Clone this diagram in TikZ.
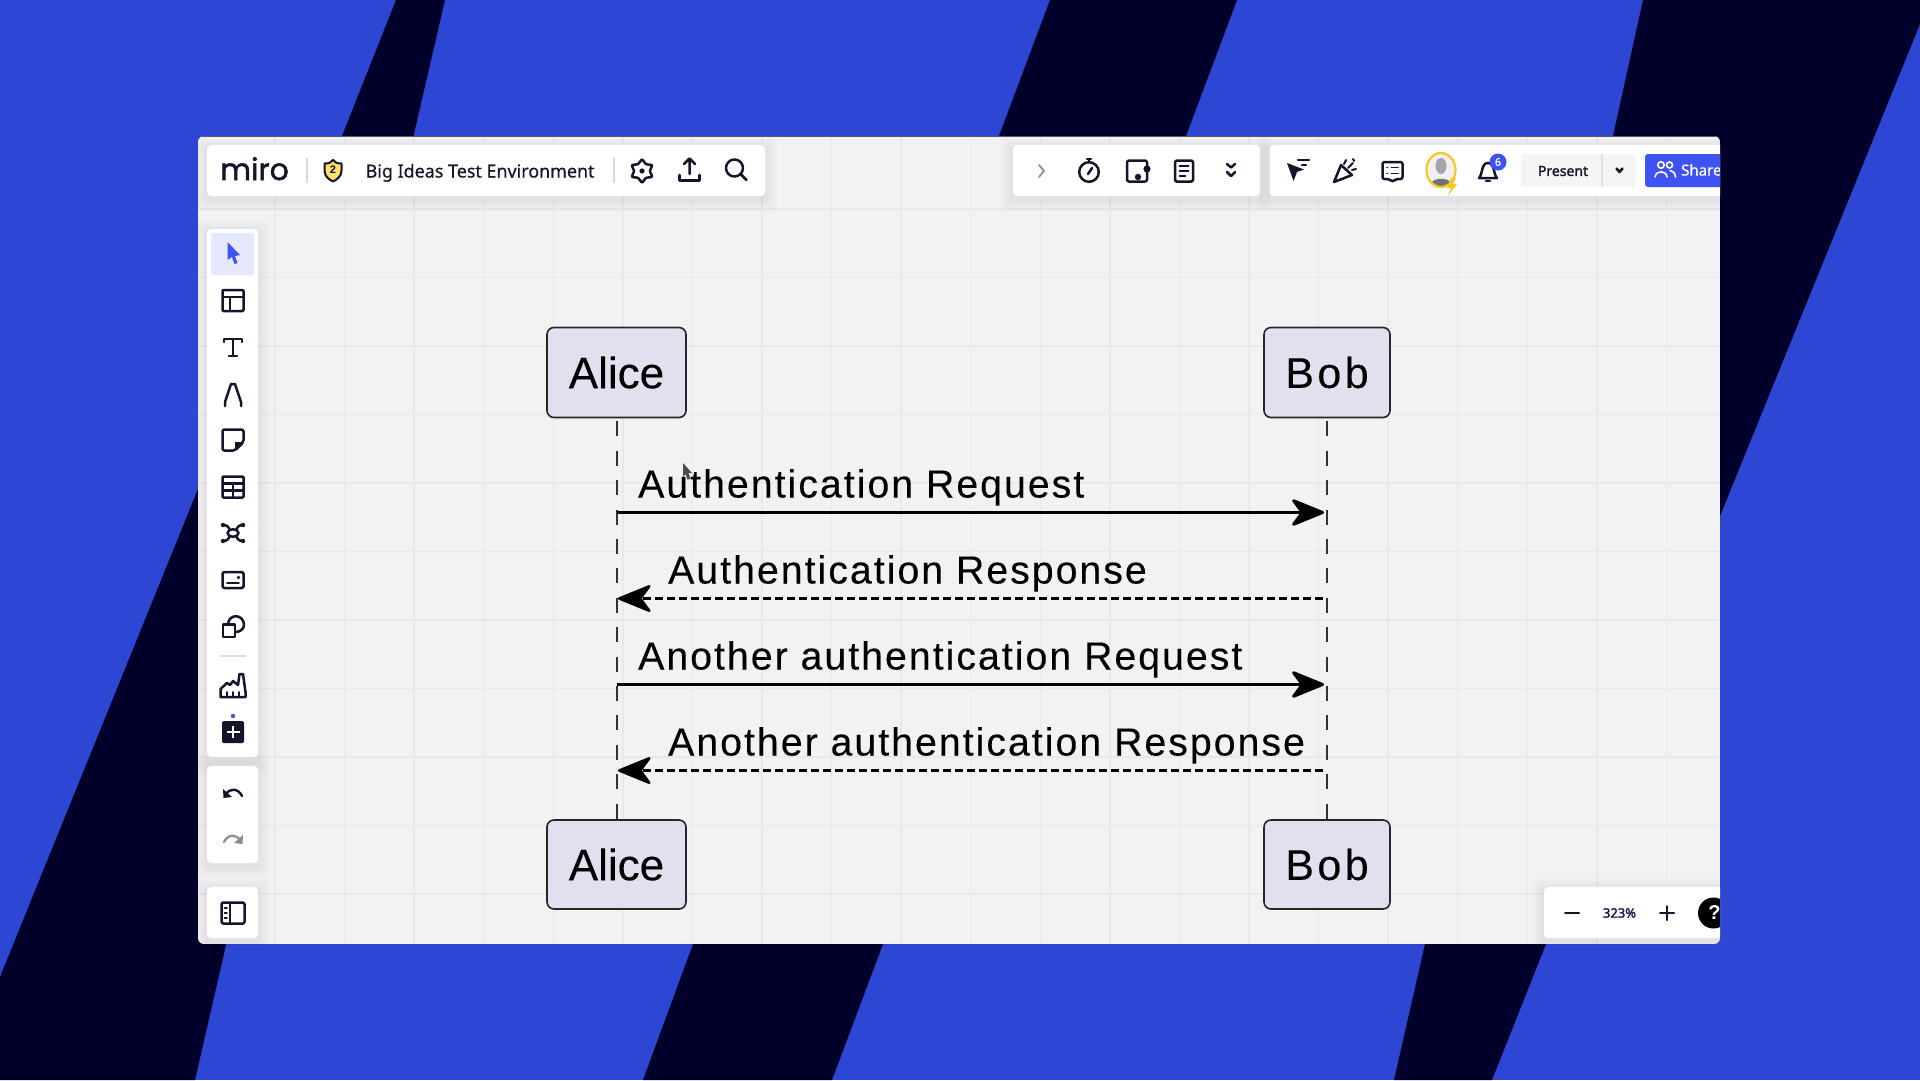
\documentclass[tikz,border=0pt]{standalone}
\usepackage{fontspec}
\usetikzlibrary{arrows.meta,positioning}
\setmainfont{Liberation Sans}
\newfontfamily\actorfont[FakeBold=0.2]{Liberation Sans}
\newfontfamily\labelfont[LetterSpace=5.2,FakeBold=0.2]{Liberation Sans}
\newfontfamily\bobfont[LetterSpace=8,FakeBold=0.2]{Liberation Sans}
\newfontfamily\uifont[FakeBold=0.4]{Noto Sans}
\newfontfamily\uistrong[FakeBold=1.6]{Noto Sans}
\newfontfamily\logofont[FakeBold=1.7]{Poppins}
\definecolor{bgblue}{HTML}{2D47D4}
\definecolor{bgdark}{HTML}{00002B}
\definecolor{canvas}{HTML}{F2F2F5}
\definecolor{gridc}{HTML}{E9E9E9}
\definecolor{actor}{HTML}{E0E0EE}
\definecolor{ink}{HTML}{14142B}
\definecolor{mirob}{HTML}{3F53F5}
\definecolor{paleb}{HTML}{E6E9FE}
\definecolor{ringy}{HTML}{F5C82A}
\newcommand{\softpanel}[5]{%
  \foreach \e/\o in {12/.012,9/.014,6/.016,3/.02}{%
    \fill[black,opacity=\o,rounded corners=#5pt] (#1-\e,#2-\e+3) rectangle (#3+\e,#4+\e+3);}
  \fill[white,rounded corners=#5pt] (#1,#2) rectangle (#3,#4);}
\tikzset{
  ic/.style={draw=ink,line width=2.5pt,line join=round,line cap=round},
  actorbox/.style={draw=black!85,line width=1.6pt,fill=actor,rounded corners=7pt,font=\fontsize{44}{44}\selectfont\actorfont,inner sep=0pt},
  lifeline/.style={draw=black!80,line width=2pt,dash pattern=on 15pt off 14.4pt},
  msgsolid/.style={draw=black,line width=3pt,-{Stealth[length=37pt,width=30pt,inset=11pt,round]}},
  msgdash/.style={draw=black,line width=2.6pt,dash pattern=on 8pt off 4pt,-{Stealth[length=37pt,width=30pt,inset=11pt,round,sep=0pt]}},
  msglabel/.style={anchor=base west,inner sep=0pt,font=\fontsize{39.2}{39.2}\selectfont\labelfont},
  uitext/.style={inner sep=0pt}
}
\begin{document}
\begin{tikzpicture}[x=1pt,y=-1pt]
\useasboundingbox (0,0) rectangle (1920,1080);
% background
\fill[bgblue] (0,0) rectangle (1920,1080);
\fill[bgdark] (396,0) -- (445,0) -- (226,945) -- (195,1080) -- (0,1080) -- (0,977) -- (198,489) -- (342,136) -- cycle;
\fill[bgdark] (1050,0) -- (1237,0) -- (883,944) -- (832,1080) -- (643,1080) -- (693,944) -- (999,136) -- cycle;
\fill[bgdark] (1643,0) -- (1920,0) -- (1920,24) -- (1546,944) -- (1492,1080) -- (1394,1080) -- (1425,944) -- (1613,136) -- cycle;
% window
\begin{scope}
\clip[rounded corners=6pt] (198,136) rectangle (1720,944);
\fill[canvas] (198,136) rectangle (1720,944);
\foreach \k in {0,...,20}{\draw[gridc,line width=1.5pt] (275+69.57*\k,136) -- (275+69.57*\k,944);}
\foreach \k in {0,...,10}{\draw[gridc,line width=1.5pt] (198,209+68.5*\k) -- (1720,209+68.5*\k);}
\draw[black!65,line width=1.2pt] (198,136.5) -- (1720,136.5);
\fill[black,opacity=.3] (198,943.6) rectangle (1720,944);
% panels
\softpanel{207}{145}{765}{196}{4}
\softpanel{1013}{145}{1260}{196}{4}
\softpanel{1269.5}{145}{1735}{196}{4}
\softpanel{207}{229}{258}{757}{4}
\softpanel{207}{766}{258}{863}{4}
\softpanel{207}{887}{258}{938}{4}
\softpanel{1544}{887}{1735}{938}{4}
\fill[paleb,rounded corners=2pt] (211,233) rectangle (254,275);
% top-left bar
\node[uitext,anchor=base west,font=\fontsize{30}{30}\selectfont\logofont,text=ink] (logo) at (220,180) {miro};
\draw[black!15,line width=1.5pt] (307,158) -- (307,183);
\draw[black!15,line width=1.5pt] (614,158) -- (614,183);
\begin{scope}[shift={(333,170.5)}]
\draw[ic,fill=yellow!60!orange!55,line width=2pt] (-8.5,-7) .. controls (-4,-7) and (-2,-8) .. (0,-10.5) .. controls (2,-8) and (4,-7) .. (8.5,-7) -- (8.5,0) .. controls (8.5,6) and (4,9) .. (0,11) .. controls (-4,9) and (-8.5,6) .. (-8.5,0) -- cycle;
\node[uitext,font=\fontsize{11}{11}\selectfont\bfseries,text=ink] (shieldnum) at (0,-0.5) {2};
\end{scope}
\node[uitext,anchor=base west,font=\fontsize{17.9}{17.9}\selectfont\uifont,text=ink] (boardname) at (365.5,177.5) {Big Ideas Test Environment};
\begin{scope}[shift={(642,171)}]
\draw[ic,rounded corners=1pt] (90:12) -- (120:7.8) -- (150:12) -- (180:7.8) -- (210:12) -- (240:7.8) -- (270:12) -- (300:7.8) -- (330:12) -- (0:7.8) -- (30:12) -- (60:7.8) -- cycle;
\fill[ink] (0,0) circle[radius=2.6pt];
\end{scope}
\begin{scope}[shift={(689.5,170)}]
\draw[ic] (0,4) -- (0,-11) (-5.5,-6) -- (0,-11.5) -- (5.5,-6);
\draw[ic] (-10,5) -- (-10,10.5) -- (10,10.5) -- (10,5);
\end{scope}
\begin{scope}[shift={(736.5,170)}]
\draw[ic] (-2,-2) circle[radius=8.5pt];
\draw[ic] (4.2,4.2) -- (10,10);
\end{scope}
% top-right group A
\draw[ic,draw=black!45,line width=1.8pt] (1039,165) -- (1044,171) -- (1039,177);
\begin{scope}[shift={(1089,171)}]
\draw[ic] (0,1) circle[radius=9.8pt];
\draw[ic] (-2,-12) -- (2,-12);
\draw[ic] (0,-11) -- (0,-9);
\draw[ic] (-1,3) -- (3,-3);
\end{scope}
\begin{scope}[shift={(1137,171)}]
\draw[ic,rounded corners=2pt] (-10,-10.5) rectangle (10,10.5);
\fill[ink] (1,6) circle[radius=3.2pt];
\fill[ink] (10,-2) circle[radius=3.6pt];
\end{scope}
\begin{scope}[shift={(1184,171)}]
\draw[ic,rounded corners=1.5pt] (-9,-10.5) rectangle (9,10.5);
\draw[ic,line width=1.9pt] (-4.5,-5) -- (4.5,-5) (-4.5,0) -- (4.5,0) (-4.5,5) -- (1.5,5);
\end{scope}
\begin{scope}[shift={(1231,171)}]
\draw[ic] (-4,-7) -- (0,-3.5) -- (4,-7);
\draw[ic] (-4,1) -- (0,5) -- (4,1);
\end{scope}
% top-right group B
\begin{scope}[shift={(1298,171)}]
\fill[ink] (-11,-8) -- (6,-1.5) -- (-1,1) -- (-4.5,10) -- cycle;
\draw[ic,line width=2.2pt] (0,-11) -- (11,-11) (4,-6) -- (8,-6);
\end{scope}
\begin{scope}[shift={(1345,171)}]
\draw[ic] (-11,11) -- (-4,-6) -- (7,4) -- cycle;
\draw[ic,line width=2pt] (-1,-7) -- (1,-11) (3,-3) -- (8,-8) (7,-1) -- (11,-2) (8,-12) -- (9,-10);
\end{scope}
\begin{scope}[shift={(1392.5,171)}]
\draw[ic,rounded corners=2pt] (-10,-9) -- (10,-9) -- (10,8) -- (3,8) -- (0,11) -- (-3,8) -- (-10,8) -- cycle;
\draw[ic,line width=1.7pt] (-5.5,-3.5) -- (-5,-3.5) (-1,-3.5) -- (5.5,-3.5) (-5.5,2.5) -- (-5,2.5) (-1,2.5) -- (5.5,2.5);
\end{scope}
\begin{scope}[shift={(1441,170)}]
\fill[black!6] (0,0) ellipse[x radius=13.5pt,y radius=16pt];
\fill[black!35] (0,-4) ellipse[x radius=5.5pt,y radius=8pt];
\fill[black!55] (-10,14) .. controls (-9,7) and (9,7) .. (10,14) -- (5,16) -- (-5,16) -- cycle;
\draw[draw=ringy,line width=2.2pt] (0,0) ellipse[x radius=14.5pt,y radius=17pt];
\fill[ringy] (10,8) -- (6,18) -- (10,18) -- (7,26) -- (16,14) -- (12,14) -- (15,8) -- cycle;
\end{scope}
\begin{scope}[shift={(1488,172)}]
\draw[ic] (-9,6) .. controls (-5,2) and (-7,-9) .. (0,-9) .. controls (7,-9) and (5,2) .. (9,6) -- cycle;
\draw[ic] (-2,9) -- (2,9);
\end{scope}
\fill[mirob] (1498,162) circle[radius=8.5pt];
\node[uitext,text=white,font=\fontsize{10.5}{10.5}\selectfont\uistrong] (badge) at (1498,162) {6};
\fill[black!4,rounded corners=3pt] (1521,154) rectangle (1636,187);
\draw[black!12,line width=1.2pt] (1602,154) -- (1602,187);
\node[uitext,text=ink,font=\fontsize{14}{14}\selectfont\uistrong] (present) at (1563,171) {Present};
\draw[ic,line width=2.6pt] (1616.5,168.5) -- (1619.5,172) -- (1622.5,168.5);
\fill[mirob,rounded corners=3pt] (1645,154) rectangle (1735,187);
\begin{scope}[shift={(1665,170)}]
\draw[white,line width=1.6pt] (-4,-5) circle[radius=3.2pt] (4.5,-5) circle[radius=3pt];
\draw[white,line width=1.6pt,line cap=round] (-10,7) .. controls (-9,0) and (1,0) .. (2,7) (5,0.5) .. controls (8,0.5) and (10,3) .. (10.5,7);
\end{scope}
\node[uitext,anchor=base west,text=white,font=\fontsize{15}{15}\selectfont\uifont] (share) at (1681,175.5) {Share};
% left toolbar
\fill[mirob] (227.5,242) -- (240,255) -- (235,256) -- (237.5,263) -- (234.5,264) -- (232,257) -- (227.5,260) -- cycle;
\begin{scope}[shift={(233,300.5)}]
\draw[ic,rounded corners=1pt] (-10.5,-10.5) rectangle (10.5,10.5);
\draw[ic] (-10.5,-3.5) -- (10.5,-3.5) (-3,-3.5) -- (-3,10.5);
\end{scope}
\begin{scope}[shift={(233,347)}]
\draw[ic] (-9,-5) -- (-9,-8) -- (9,-8) -- (9,-5) (0,-8) -- (0,9) (-4,9) -- (4,9);
\end{scope}
\begin{scope}[shift={(233,394)}]
\draw[ic] (-8,12) -- (-8,8) -- (-4,-4) -- (-2,-10) -- (2,-10) -- (4,-4) -- (8,8) -- (8,12);
\end{scope}
\begin{scope}[shift={(233,440)}]
\draw[ic,rounded corners=2pt] (-10.5,-10.5) -- (10.5,-10.5) -- (10.5,2) -- (2,10.5) -- (-10.5,10.5) -- cycle;
\fill[ink] (10.5,2) -- (2,10.5) -- (2,2) -- cycle;
\end{scope}
\begin{scope}[shift={(233,487)}]
\draw[ic,rounded corners=1pt] (-10.5,-10.5) rectangle (10.5,10.5);
\draw[ic] (-10.5,-3.5) -- (10.5,-3.5) (-10.5,3.5) -- (10.5,3.5) (0,-3.5) -- (0,10.5);
\end{scope}
\begin{scope}[shift={(233,533)}]
\draw[ic] (0,0) ellipse[x radius=5.5pt,y radius=3.8pt];
\draw[ic] (-10,-8) .. controls (-5,-8) and (-4,-5) .. (-3,-3) (10,-8) .. controls (5,-8) and (4,-5) .. (3,-3) (-10,8) .. controls (-5,8) and (-4,5) .. (-3,3) (10,8) .. controls (5,8) and (4,5) .. (3,3);
\foreach \a/\b in {-10/-8,10/-8,-10/8,10/8}{\fill[ink] (\a,\b) circle[radius=2.2pt];}
\end{scope}
\begin{scope}[shift={(233,580)}]
\draw[ic,rounded corners=1.5pt] (-10.5,-8) rectangle (10.5,8);
\draw[ic,line width=1.8pt] (-6,3) -- (6,3);
\fill[ink] (5.5,-2.5) circle[radius=1.8pt];
\end{scope}
\begin{scope}[shift={(233,627)}]
\draw[ic] (-10,-2.5) rectangle (2,10);
\draw[ic] (-5,-3) .. controls (-4,-14) and (11,-13) .. (11,-2) .. controls (11,2) and (7,5) .. (2.5,5);
\end{scope}
\draw[black!13,line width=1.3pt] (220,656) -- (246,656);
\begin{scope}[shift={(233,686)}]
\draw[ic] (-12.5,11) -- (12.5,11) -- (12.5,6) -- (10,-12) -- (6.5,-12) -- (5,-1) -- (0,-5) -- (-3,-1) -- (-6,-3) -- (-12.5,3) -- cycle;
\draw[ic,line width=1.8pt] (-6,11) -- (-6,6) (0,11) -- (0,6) (6,11) -- (6,6);
\end{scope}
\fill[ink,rounded corners=1.5pt] (222,721) rectangle (244,743);
\draw[white,line width=2pt] (226.5,732) -- (239.5,732) (233,726) -- (233,738);
\fill[mirob] (233,716) circle[radius=2.2pt];
\begin{scope}[shift={(233,792)}]
\draw[ic,line width=2.4pt] (9,4) .. controls (5,-4) and (-3,-4) .. (-7,2);
\fill[ink] (-10,-3) -- (-9.5,6) -- (-1,5) -- cycle;
\end{scope}
\begin{scope}[shift={(233,838)}]
\draw[ic,draw=black!45,line width=2.2pt] (-9,4) .. controls (-5,-4) and (3,-4) .. (7,2);
\fill[black!45] (10,-3) -- (9.5,6) -- (1,5) -- cycle;
\end{scope}
\begin{scope}[shift={(233,913)}]
\draw[ic,rounded corners=1.5pt] (-11.5,-10.5) rectangle (11.5,10.5);
\draw[ic] (-3,-10.5) -- (-3,10.5);
\draw[ic,line width=1.8pt] (-8.5,-5) -- (-6,-5) (-8.5,0) -- (-6,0) (-8.5,5) -- (-6,5);
\end{scope}
% zoom panel
\draw[ic,line width=2pt] (1565,913) -- (1579,913);
\node[uitext,text=ink!85!blue,font=\fontsize{13}{13}\selectfont\uistrong] (zoomval) at (1619.5,913) {323\%};
\draw[ic,line width=2pt] (1660,913) -- (1674,913) (1667,906) -- (1667,920);
\fill[black] (1713.5,913) circle[radius=15.5pt];
\node[uitext,text=white,font=\fontsize{20}{20}\selectfont\bfseries] (helpq) at (1714.5,913) {?};
\end{scope}
% sequence diagram
\node[actorbox,minimum width=139pt,minimum height=90pt] (alicetop) at (616.5,372.5) {Alice};
\node[actorbox,minimum width=126pt,minimum height=90pt,font=\fontsize{43}{43}\selectfont\bobfont] (bobtop) at (1327,372.5) {Bob};
\node[actorbox,minimum width=139pt,minimum height=89pt] (alicebot) at (616.5,864.5) {Alice};
\node[actorbox,minimum width=126pt,minimum height=89pt,font=\fontsize{43}{43}\selectfont\bobfont] (bobbot) at (1327,864.5) {Bob};
\draw[lifeline,shorten <=3pt] (alicetop.south) -- (alicebot.north);
\draw[lifeline,shorten <=3pt] (bobtop.south) -- (bobbot.north);
\coordinate (a1) at (616.5,512.5); \coordinate (b1) at (1324,512.5);
\coordinate (a2) at (618,598.5); \coordinate (b2) at (1323,598.5);
\coordinate (a3) at (616.5,684.5); \coordinate (b3) at (1324,684.5);
\coordinate (a4) at (618,770.5); \coordinate (b4) at (1323,770.5);
\draw[msgsolid] (a1) -- (b1);
\draw[msgdash] (b2) -- (a2);
\draw[msgsolid] (a3) -- (b3);
\draw[msgdash] (b4) -- (a4);
\node[msglabel] (m1) at (638,497.5) {Authentication Request};
\node[msglabel] (m2) at (668,583.5) {Authentication Response};
\node[msglabel] (m3) at (638,669.5) {Another authentication Request};
\node[msglabel] (m4) at (668,755.5) {Another authentication Response};
% mouse pointer
\fill[black!70] (683,463) -- (692,473) -- (688.5,473) -- (690.5,479) -- (687.5,479.5) -- (685.5,474) -- (683,476.5) -- cycle;
\end{tikzpicture}
\end{document}
